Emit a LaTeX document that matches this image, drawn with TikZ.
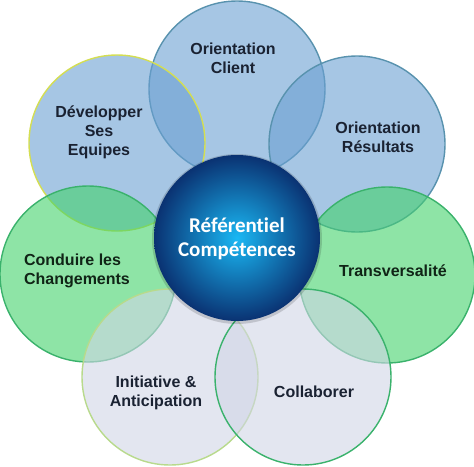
\documentclass[tikz,border=0pt]{standalone}
\usepackage{fontspec}
\setmainfont{Liberation Sans}
\newfontfamily\calibri[Ligatures=NoCommon]{Carlito}
\definecolor{blueFill}{RGB}{107,160,210}
\definecolor{blueEdge}{RGB}{88,146,174}
\definecolor{greenFill}{RGB}{67,210,107}
\definecolor{greenEdge}{RGB}{58,178,108}
\definecolor{grayFill}{RGB}{208,213,230}
\definecolor{yellowEdge}{RGB}{212,222,82}
\definecolor{limeEdge}{RGB}{184,218,140}
\definecolor{centerIn}{RGB}{26,184,244}
\definecolor{centerOut}{RGB}{10,50,114}
\definecolor{lblText}{RGB}{26,34,50}
\definecolor{lblGreen}{RGB}{16,36,22}
\tikzset{
  petal/.style={circle, minimum size=176pt, inner sep=0pt, line width=1.4pt, fill opacity=0.6, draw opacity=1},
  bluepetal/.style={petal, draw=blueEdge, fill=blueFill},
  greenpetal/.style={petal, draw=greenEdge, fill=greenFill},
  graypetal/.style={petal, fill=grayFill},
  lbl/.style={font=\fontsize{16}{19}\selectfont\bfseries, align=center, text=lblText, inner sep=0pt}
}
\begin{document}
\begin{tikzpicture}[x=1pt,y=-1pt]
\useasboundingbox (0,0) rectangle (474,466);
% petals
\node[bluepetal] (client) at (237,89) {};
\node[bluepetal, draw=yellowEdge] (equipes) at (117,143) {};
\node[bluepetal] (resultats) at (357,144) {};
\node[greenpetal] (changements) at (88,274) {};
\node[greenpetal] (transversalite) at (387,275) {};
\node[graypetal, draw=limeEdge] (initiative) at (170,377) {};
\node[graypetal, draw=greenEdge] (collaborer) at (303,377) {};
% center
\fill[black, opacity=0.15] (237,239) circle (85);
\shade[inner color=centerIn, outer color=centerOut] (237,238) circle (83);
\node[font=\calibri\fontsize{21}{24}\selectfont\bfseries, text=white, align=center] (referentiel) at (237,239) {Référentiel\\Compétences};
% labels
\node[lbl] (lclient) at (233,58) {Orientation\\Client};
\node[lbl] (lequipes) at (99,132) {Développer\\Ses\\Equipes};
\node[lbl] (lresultats) at (378,137) {Orientation\\Résultats};
\node[lbl, align=left, text=lblGreen] (lchangements) at (77,271) {Conduire les\\Changements};
\node[lbl, text=lblGreen] (ltransversalite) at (393,271) {Transversalité};
\node[lbl] (linitiative) at (156,393) {Initiative \&\\Anticipation};
\node[lbl] (lcollaborer) at (314,392) {Collaborer};
\end{tikzpicture}
\end{document}
